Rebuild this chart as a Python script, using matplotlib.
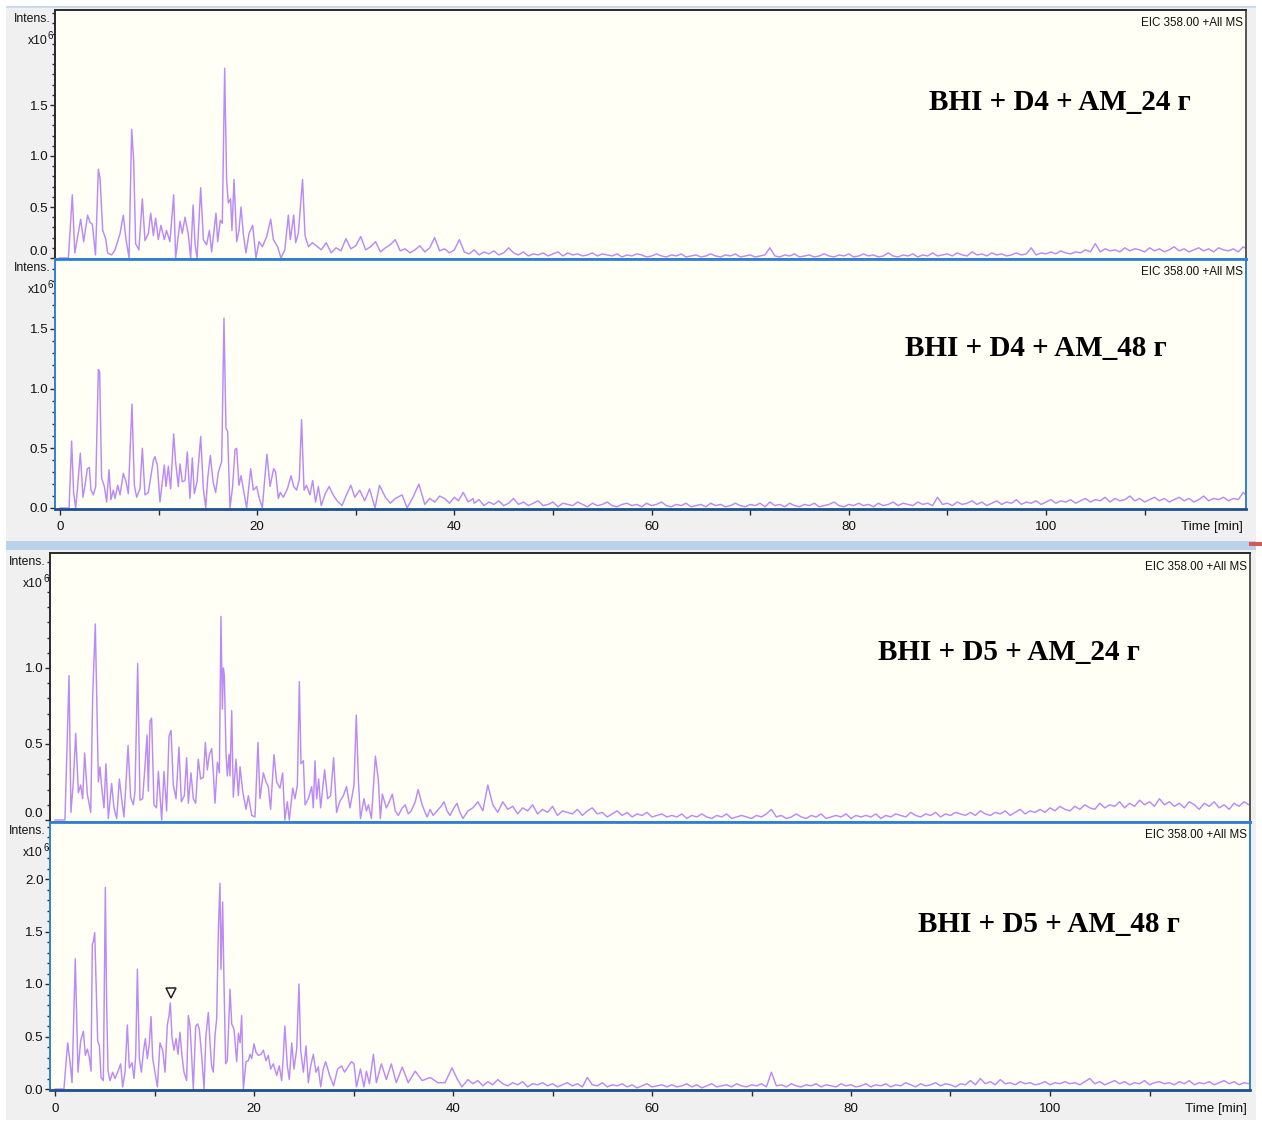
import numpy as np
import matplotlib
matplotlib.use("Agg")
import matplotlib.pyplot as plt
from matplotlib import font_manager as fm
from matplotlib.patches import Rectangle
from matplotlib.ticker import FixedLocator, MultipleLocator, NullFormatter

# ------------------------------------------------------------------ data
titles = ["BHI + D4 + AM_24 г", "BHI + D4 + AM_48 г",
          "BHI + D5 + AM_24 г", "BHI + D5 + AM_48 г"]
eic_label = "EIC 358.00 +All MS"
x_ticks = [0, 20, 40, 60, 80, 100]
x_minor = [10, 30, 50, 70, 90, 110]
y_ticks = [[0.0, 0.5, 1.0, 1.5], [0.0, 0.5, 1.0, 1.5],
           [0.0, 0.5, 1.0], [0.0, 0.5, 1.0, 1.5, 2.0]]

# panel 1 : BHI + D4 + AM_24
p1_head_t = [0, 0.85, 1.25, 1.5, 2.1, 2.4, 2.8, 3.04, 3.28, 3.6, 3.89, 4.06, 4.33, 4.63, 4.83,
             5.24, 5.58, 6.09, 6.42, 6.7, 7.0, 7.27, 7.47, 7.67, 8.0, 8.35, 8.62, 8.96, 9.2, 9.47,
             9.7, 9.97, 10.24, 10.58, 10.8, 11.15, 11.53, 11.73, 12.17, 12.4, 12.68, 13.0, 13.25,
             13.5, 13.7, 13.9, 14.27, 14.54, 14.87, 15.15, 15.38, 15.82, 15.99, 16.26, 16.46, 16.7,
             16.9, 17.07, 17.3, 17.44, 17.65, 17.92, 18.15, 18.36, 18.59, 18.86, 19.17, 19.54,
             19.88, 20.18, 20.52, 20.96, 21.37, 21.64, 22.07, 22.41, 22.8, 23.16, 23.36, 23.7,
             23.9, 24.17, 24.6, 24.85, 25.2, 25.6]
p1_head_v = [0, 0, 0.62, 0.05, 0.38, 0.16, 0.42, 0.35, 0.33, 0.03, 0.87, 0.78, 0.27, 0.19, 0.05,
             0.03, 0.08, 0.24, 0.42, 0.18, 0.0, 1.26, 0.96, 0.14, 0.08, 0.58, 0.17, 0.24, 0.44, 0.22,
             0.39, 0.18, 0.32, 0.18, 0.27, 0.16, 0.62, 0.0, 0.36, 0.24, 0.40, 0.24, 0.0,
             0.52, 0.13, 0.0, 0.69, 0.18, 0.13, 0.27, 0.06, 0.44, 0.16, 0.37, 0.34, 1.86,
             0.76, 0.54, 0.58, 0.27, 0.77, 0.16, 0.27, 0.50, 0.24, 0.05, 0.24, 0.32,
             0.0, 0.16, 0.11, 0.21, 0.38, 0.18, 0.11, 0.0, 0.08, 0.42, 0.18, 0.42,
             0.15, 0.24, 0.77, 0.22, 0.11, 0.15]
p1_tail_start = 26.0
p1_tail_v = [
    0.12, 0.08, 0.15, 0.05, 0.10, 0.07, 0.19, 0.09, 0.12, 0.21, 0.08, 0.11, 0.16, 0.06, 0.10, 0.13, 0.18, 0.07, 0.09, 0.05,
    0.08, 0.12, 0.06, 0.10, 0.20, 0.07, 0.09, 0.05, 0.08, 0.18, 0.06, 0.04, 0.08, 0.03, 0.06, 0.04, 0.07, 0.03, 0.05, 0.10,
    0.05, 0.03, 0.06, 0.02, 0.04, 0.03, 0.05, 0.02, 0.04, 0.06, 0.02, 0.05, 0.03, 0.04, 0.02, 0.03, 0.05, 0.02, 0.04, 0.03,
    0.02, 0.04, 0.01, 0.03, 0.02, 0.04, 0.03, 0.01, 0.02, 0.04, 0.02, 0.01, 0.03, 0.02, 0.04, 0.01, 0.02, 0.03, 0.01, 0.02,
    0.04, 0.02, 0.01, 0.03, 0.02, 0.04, 0.01, 0.02, 0.03, 0.01, 0.02, 0.03, 0.10, 0.02, 0.01, 0.03, 0.02, 0.04, 0.01, 0.02,
    0.03, 0.01, 0.02, 0.04, 0.02, 0.01, 0.03, 0.02, 0.04, 0.01, 0.02, 0.04, 0.02, 0.03, 0.01, 0.02, 0.05, 0.02, 0.01, 0.03,
    0.02, 0.04, 0.01, 0.03, 0.02, 0.05, 0.02, 0.03, 0.04, 0.02, 0.05, 0.03, 0.02, 0.06, 0.03, 0.04, 0.02, 0.05, 0.03, 0.04,
    0.02, 0.03, 0.05, 0.03, 0.04, 0.10, 0.03, 0.05, 0.04, 0.06, 0.04, 0.07, 0.05, 0.04, 0.06, 0.05, 0.08, 0.06, 0.14, 0.06,
    0.09, 0.07, 0.08, 0.06, 0.10, 0.07, 0.09, 0.08, 0.06, 0.10, 0.07, 0.09, 0.06, 0.08, 0.11, 0.07, 0.09, 0.06, 0.08, 0.10,
    0.07, 0.09, 0.06, 0.10, 0.08, 0.07, 0.09, 0.06, 0.11, 0.08]

# panel 2 : BHI + D4 + AM_48
p2_head_t = [0, 0.92, 1.18, 1.38, 1.59, 1.76, 2.06, 2.33, 2.54, 2.77, 2.98, 3.14, 3.38, 3.62, 3.89,
             4.02, 4.22, 4.5, 4.73, 4.97, 5.17, 5.41, 5.58, 5.85, 6.09, 6.42, 6.7, 6.93, 7.3, 7.54,
             7.78, 8.11, 8.35, 8.62, 8.96, 9.47, 9.63, 9.87, 10.14, 10.58, 10.75, 10.99, 11.22,
             11.53, 11.73, 12.0, 12.17, 12.4, 12.68, 12.91, 13.18, 13.42, 13.62, 13.9, 14.27,
             14.54, 14.78, 14.98, 15.25, 15.52, 15.79, 16.06, 16.4, 16.63, 16.83, 17.0, 17.24,
             17.51, 17.75, 17.92, 18.15, 18.36, 18.59, 18.93, 19.34, 19.61, 19.95, 20.18, 20.52,
             20.79, 20.99, 21.3, 21.67, 21.87, 22.14, 22.34, 22.65, 23.06, 23.43, 23.7, 24.0,
             24.27, 24.5, 24.75, 25.0, 25.35, 25.62, 25.92, 26.2, 26.5, 26.9, 27.3, 27.7, 28.1,
             28.6, 29.0, 29.5, 29.9, 30.4, 30.9, 31.4, 31.95, 32.4, 33.0, 33.5, 34.0, 34.7, 35.2,
             35.8, 36.4, 37.0, 37.5, 38.0, 38.5, 39.0, 39.5, 40.0, 40.4, 40.9, 41.4, 41.9]
p2_head_v = [0, 0, 0.56, 0.13, 0.0, 0.15, 0.46, 0.09, 0.19, 0.33, 0.34, 0.15, 0.11, 0.18, 1.16,
             1.14, 0.25, 0.18, 0.05, 0.32, 0.07, 0.15, 0.08, 0.19, 0.11, 0.29, 0.22, 0.12, 0.87, 0.19,
             0.09, 0.16, 0.50, 0.11, 0.13, 0.40, 0.43, 0.36, 0.05, 0.36, 0.18, 0.35, 0.16,
             0.62, 0.38, 0.18, 0.37, 0.22, 0.23, 0.47, 0.08, 0.42, 0.12, 0.22, 0.60,
             0.16, 0.0, 0.25, 0.44, 0.22, 0.13, 0.30, 0.39, 1.59, 0.67, 0.64, 0.0,
             0.18, 0.49, 0.50, 0.19, 0.27, 0.16, 0.0, 0.33, 0.15, 0.18, 0.09, 0.0,
             0.27, 0.45, 0.18, 0.33, 0.30, 0.08, 0.13, 0.09, 0.16, 0.27, 0.18, 0.15,
             0.24, 0.74, 0.15, 0.19, 0.11, 0.23, 0.05, 0.18, 0.02, 0.12, 0.18, 0.11, 0.06,
             0.02, 0.10, 0.19, 0.09, 0.15, 0.06, 0.16, 0.0, 0.19, 0.09, 0.04, 0.08, 0.11, 0.0,
             0.09, 0.20, 0.03, 0.08, 0.05, 0.10, 0.08, 0.04, 0.09, 0.06, 0.13, 0.05, 0.08]
p2_tail_start = 42.0
p2_tail_v = [
    0.04, 0.07, 0.02, 0.05, 0.03, 0.06, 0.02, 0.04, 0.08, 0.03, 0.05, 0.02, 0.04, 0.06, 0.02, 0.03, 0.05, 0.01, 0.04, 0.03,
    0.02, 0.05, 0.03, 0.01, 0.04, 0.02, 0.03, 0.05, 0.02, 0.01, 0.03, 0.04, 0.02, 0.03, 0.01, 0.04, 0.02, 0.03, 0.05, 0.02,
    0.01, 0.03, 0.02, 0.04, 0.01, 0.02, 0.03, 0.01, 0.04, 0.02, 0.03, 0.01, 0.02, 0.04, 0.02, 0.01, 0.03, 0.02, 0.04, 0.01,
    0.05, 0.02, 0.03, 0.01, 0.04, 0.02, 0.01, 0.03, 0.02, 0.04, 0.01, 0.02, 0.03, 0.05, 0.02, 0.01, 0.03, 0.02, 0.04, 0.02,
    0.03, 0.01, 0.04, 0.02, 0.03, 0.05, 0.02, 0.04, 0.03, 0.02, 0.05, 0.03, 0.04, 0.02, 0.09, 0.03, 0.04, 0.02, 0.05, 0.03,
    0.04, 0.06, 0.03, 0.05, 0.02, 0.04, 0.06, 0.03, 0.05, 0.04, 0.07, 0.03, 0.05, 0.04, 0.06, 0.03, 0.05, 0.07, 0.04, 0.06,
    0.05, 0.07, 0.04, 0.06, 0.08, 0.05, 0.07, 0.06, 0.09, 0.05, 0.08, 0.06, 0.07, 0.10, 0.06, 0.08, 0.05, 0.07, 0.09, 0.06,
    0.08, 0.05, 0.07, 0.09, 0.06, 0.08, 0.05, 0.07, 0.10, 0.06, 0.08, 0.07, 0.09, 0.06, 0.08, 0.07, 0.13, 0.09, 0.07, 0.08]

# panel 3 : BHI + D5 + AM_24
p3_head_t = [0, 1.0, 1.41, 1.6, 1.84, 2.08, 2.35, 2.58, 2.78, 2.98, 3.25, 3.59, 3.79, 4.05, 4.19,
             4.36, 4.52, 4.69, 4.92, 5.12, 5.36, 5.69, 5.93, 6.2, 6.47, 6.7, 6.93, 7.14, 7.34, 7.6,
             7.87, 8.04, 8.31, 8.54, 8.81, 9.05, 9.25, 9.38, 9.55, 9.71, 9.95, 10.2, 10.39, 10.72,
             10.95, 11.22, 11.46, 11.66, 11.89, 12.16, 12.46, 12.7, 13.0, 13.23, 13.4, 13.67, 13.9,
             14.14, 14.4, 14.64, 14.91, 15.11, 15.31, 15.51, 15.75, 15.92, 16.08, 16.32, 16.52,
             16.68, 16.82, 16.92, 17.02, 17.19, 17.32, 17.49, 17.59, 17.76, 17.92, 18.19, 18.43,
             18.6, 18.86, 19.2, 19.43, 19.77, 20.1, 20.4, 20.6, 20.94, 21.21, 21.44, 21.67, 22.01,
             22.28, 22.61, 22.88, 23.1, 23.35, 23.55, 23.89, 24.12, 24.36, 24.56, 24.72, 24.96,
             25.13, 25.46, 25.8, 25.96, 26.13, 26.3, 26.5, 26.7, 27.1, 27.4, 27.7, 28.0, 28.3,
             28.6, 28.98, 29.3, 29.65, 30.05, 30.28, 30.5, 30.7, 31.05, 31.3, 31.5, 31.8, 32.2,
             32.5, 32.7, 32.9, 33.3, 33.6, 33.9, 34.2, 34.5, 34.9, 35.2, 35.5, 35.8, 36.2, 36.5,
             36.9, 37.2, 37.4, 37.7, 38.0, 38.4, 38.8, 39.1, 39.4, 39.7, 40.1, 40.4, 40.7, 41.0, 41.5]
p3_head_v = [0, 0, 0.95, 0.05, 0.25, 0.57, 0.18, 0.23, 0.14, 0.44, 0.17, 0.05, 0.82, 1.29, 0.82,
             0.25, 0.35, 0.22, 0.08, 0.37, 0.01, 0.24, 0.08, 0.01, 0.27, 0.14, 0.02, 0.25, 0.49, 0.15,
             0.10, 0.19, 1.03, 0.13, 0.14, 0.36, 0.56, 0.19, 0.65, 0.67, 0.10, 0.08, 0.32, 0.0,
             0.32, 0.06, 0.55, 0.59, 0.23, 0.14, 0.48, 0.12, 0.16, 0.41, 0.11, 0.31, 0.14,
             0.11, 0.40, 0.27, 0.28, 0.51, 0.33, 0.43, 0.47, 0.30, 0.11, 0.38, 0.31,
             1.34, 0.73, 1.0, 0.95, 0.43, 0.29, 0.43, 0.29, 0.72, 0.15, 0.40, 0.16,
             0.35, 0.19, 0.07, 0.16, 0.03, 0.02, 0.51, 0.14, 0.31, 0.25, 0.22, 0.07, 0.43,
             0.25, 0.21, 0.31, 0.0, 0.12, 0.0, 0.21, 0.14, 0.23, 0.91, 0.37, 0.39,
             0.10, 0.14, 0.22, 0.08, 0.39, 0.14, 0.27, 0.08, 0.33, 0.14, 0.16, 0.41, 0.05,
             0.12, 0.16, 0.22, 0.08, 0.23, 0.69, 0.25, 0.01, 0.14, 0.06, 0.10, 0.01, 0.42,
             0.26, 0.01, 0.17, 0.08, 0.12, 0.17, 0.06, 0.03, 0.08, 0.10, 0.04, 0.06, 0.12, 0.20,
             0.10, 0.05, 0.02, 0.07, 0.03, 0.06, 0.09, 0.12, 0.06, 0.03, 0.08, 0.11, 0.05, 0.01, 0.06]
p3_tail_start = 42.0
p3_tail_v = [
    0.08, 0.12, 0.06, 0.23, 0.10, 0.05, 0.12, 0.07, 0.09, 0.04, 0.08, 0.06, 0.10, 0.04, 0.07, 0.05, 0.09, 0.03, 0.06, 0.05,
    0.04, 0.07, 0.03, 0.06, 0.08, 0.04, 0.05, 0.02, 0.04, 0.06, 0.03, 0.05, 0.02, 0.04, 0.03, 0.05, 0.02, 0.03, 0.04, 0.02,
    0.03, 0.02, 0.04, 0.01, 0.03, 0.02, 0.04, 0.02, 0.01, 0.03, 0.02, 0.04, 0.01, 0.02, 0.03, 0.02, 0.01, 0.03, 0.02, 0.04,
    0.07, 0.02, 0.03, 0.01, 0.02, 0.04, 0.02, 0.01, 0.03, 0.02, 0.04, 0.01, 0.02, 0.03, 0.02, 0.04, 0.01, 0.03, 0.02, 0.03,
    0.02, 0.04, 0.01, 0.03, 0.02, 0.04, 0.03, 0.02, 0.05, 0.03, 0.02, 0.04, 0.03, 0.05, 0.02, 0.04, 0.03, 0.05, 0.04, 0.03,
    0.05, 0.03, 0.06, 0.04, 0.03, 0.05, 0.04, 0.06, 0.03, 0.05, 0.07, 0.04, 0.06, 0.05, 0.07, 0.05, 0.08, 0.06, 0.09, 0.07,
    0.06, 0.09, 0.07, 0.10, 0.08, 0.07, 0.11, 0.08, 0.10, 0.09, 0.12, 0.08, 0.11, 0.09, 0.13, 0.10, 0.12, 0.09, 0.14, 0.10,
    0.12, 0.09, 0.11, 0.08, 0.12, 0.10, 0.07, 0.11, 0.09, 0.12, 0.08, 0.10, 0.07, 0.11, 0.09, 0.12, 0.10, 0.08, 0.11, 0.09]

# panel 4 : BHI + D5 + AM_48
p4_head_t = [0, 0.9, 1.27, 1.51, 1.71, 2.04, 2.31, 2.58, 2.85, 3.05, 3.25, 3.45, 3.62, 3.75, 3.85,
             3.99, 4.12, 4.29, 4.46, 4.63, 4.86, 5.06, 5.19, 5.33, 5.53, 5.79, 6.03, 6.3, 6.6, 6.8,
             7.04, 7.27, 7.47, 7.74, 7.94, 8.11, 8.28, 8.48, 8.68, 8.88, 9.08, 9.28, 9.48, 9.65,
             9.82, 10.05, 10.29, 10.55, 10.82, 11.06, 11.29, 11.46, 11.59, 11.76, 11.96, 12.16,
             12.36, 12.56, 12.76, 12.96, 13.23, 13.4, 13.57, 13.73, 13.9, 14.14, 14.34, 14.5,
             14.74, 14.98, 15.17, 15.41, 15.58, 15.74, 15.91, 16.08, 16.25, 16.42, 16.58, 16.68,
             16.85, 16.99, 17.15, 17.32, 17.59, 17.76, 17.99, 18.26, 18.43, 18.6, 18.76, 18.93,
             19.2, 19.43, 19.6, 19.77, 20.0, 20.2, 20.44, 20.7, 20.94, 21.2, 21.44, 21.67, 21.94,
             22.28, 22.54, 22.78, 22.95, 23.1, 23.35, 23.55, 23.79, 24.02, 24.29, 24.52, 24.69,
             24.96, 25.23, 25.46, 25.7, 25.96, 26.23, 26.46, 26.7, 26.96, 27.2, 27.6, 28.0, 28.4,
             28.8, 29.1, 29.5, 29.8, 30.05, 30.3, 30.7, 31.05, 31.3, 31.6, 32.0, 32.3, 32.8, 33.3,
             33.8, 34.3, 34.9, 35.5, 36.2, 36.9, 37.7, 38.5, 39.2, 39.9, 40.4, 40.9, 41.5]
p4_head_v = [0, 0, 0.44, 0.26, 0.06, 1.24, 0.16, 0.46, 0.55, 0.32, 0.38, 0.30, 0.17, 1.38, 1.40,
             1.49, 1.05, 0.46, 0.41, 0.11, 0.08, 1.92, 0.82, 0.17, 0.08, 0.16, 0.10, 0.16, 0.24, 0.02,
             0.16, 0.61, 0.20, 0.25, 0.10, 0.32, 1.14, 0.29, 0.16, 0.35, 0.48, 0.29, 0.43, 0.69,
             0.29, 0.16, 0.02, 0.44, 0.37, 0.16, 0.61, 0.70, 0.82, 0.49, 0.37, 0.48,
             0.33, 0.54, 0.32, 0.16, 0.08, 0.70, 0.60, 0.32, 0.0, 0.60, 0.62, 0.57,
             0.32, 0.0, 0.51, 0.73, 0.44, 0.22, 0.16, 0.51, 0.67, 1.52, 1.96, 1.14,
             1.78, 0.98, 0.24, 0.27, 0.95, 0.62, 0.57, 0.26, 0.53, 0.44, 0.70, 0.0,
             0.26, 0.27, 0.33, 0.29, 0.43, 0.35, 0.32, 0.33, 0.37, 0.27, 0.32, 0.19, 0.24,
             0.13, 0.22, 0.08, 0.32, 0.60, 0.22, 0.09, 0.44, 0.19, 0.38, 1.0, 0.37,
             0.16, 0.41, 0.06, 0.22, 0.33, 0.16, 0.21, 0.02, 0.19, 0.26, 0.13, 0.03, 0.19,
             0.22, 0.16, 0.22, 0.26, 0.24, 0.02, 0.19, 0.02, 0.17, 0.05, 0.33, 0.06, 0.24, 0.09,
             0.24, 0.06, 0.21, 0.06, 0.17, 0.08, 0.11, 0.06, 0.06, 0.20, 0.10, 0.02, 0.09]
p4_tail_start = 42.0
p4_tail_v = [
    0.05, 0.08, 0.03, 0.07, 0.04, 0.09, 0.05, 0.03, 0.06, 0.04, 0.07, 0.02, 0.05, 0.04, 0.06, 0.03, 0.05, 0.02, 0.04, 0.06,
    0.03, 0.05, 0.02, 0.11, 0.04, 0.03, 0.06, 0.02, 0.04, 0.03, 0.05, 0.02, 0.04, 0.01, 0.03, 0.05, 0.02, 0.03, 0.04, 0.02,
    0.04, 0.02, 0.03, 0.05, 0.02, 0.04, 0.01, 0.03, 0.05, 0.02, 0.03, 0.04, 0.02, 0.05, 0.03, 0.02, 0.04, 0.03, 0.05, 0.02,
    0.16, 0.03, 0.04, 0.02, 0.05, 0.03, 0.02, 0.04, 0.03, 0.05, 0.02, 0.04, 0.03, 0.02, 0.05, 0.03, 0.04, 0.02, 0.03, 0.05,
    0.02, 0.04, 0.03, 0.05, 0.02, 0.04, 0.03, 0.06, 0.04, 0.02, 0.05, 0.03, 0.04, 0.06, 0.03, 0.05, 0.04, 0.02, 0.05, 0.04,
    0.08, 0.04, 0.10, 0.05, 0.07, 0.04, 0.09, 0.05, 0.06, 0.04, 0.07, 0.05, 0.06, 0.04, 0.05, 0.07, 0.04, 0.06, 0.05, 0.07,
    0.05, 0.06, 0.04, 0.07, 0.10, 0.05, 0.07, 0.04, 0.06, 0.08, 0.05, 0.07, 0.04, 0.06, 0.05, 0.08, 0.04, 0.06, 0.07, 0.05,
    0.06, 0.04, 0.07, 0.05, 0.08, 0.04, 0.06, 0.05, 0.07, 0.04, 0.06, 0.08, 0.05, 0.07, 0.04, 0.06, 0.05, 0.07, 0.06, 0.05]

# peak marker (panel 4)
marker_t = [11.62]
marker_v = [0.91]

# ------------------------------------------------------------------ helpers
TAIL_STEP = 0.5


def series(head_t, head_v, tail_start, tail_v):
    t = list(head_t) + [tail_start + TAIL_STEP * i for i in range(len(tail_v))]
    v = list(head_v) + list(tail_v)
    return np.array(t), np.array(v)


data = [series(p1_head_t, p1_head_v, p1_tail_start, p1_tail_v),
        series(p2_head_t, p2_head_v, p2_tail_start, p2_tail_v),
        series(p3_head_t, p3_head_v, p3_tail_start, p3_tail_v),
        series(p4_head_t, p4_head_v, p4_tail_start, p4_tail_v)]

W, H = 1262, 1122
fig = plt.figure(figsize=(W / 100, H / 100), dpi=100, facecolor="white")

avail = {f.name for f in fm.fontManager.ttflist}
if "Liberation Sans Narrow" in avail:
    SANS, TICK_FS, EIC_FS, INT_FS = "Liberation Sans Narrow", 10.7, 9.8, 10.7
else:
    SANS, TICK_FS, EIC_FS, INT_FS = "Liberation Sans", 9.6, 8.4, 8.8


def fx(x):
    return x / W


def fy(y):
    return 1 - y / H


def rect_px(x0, y0, x1, y1, color, z):
    r = Rectangle((fx(x0), fy(y1)), (x1 - x0) / W, (y1 - y0) / H,
                  transform=fig.transFigure, facecolor=color, edgecolor="none", zorder=z)
    fig.add_artist(r)


# background
rect_px(6, 8, 1256, 1120, "#f0f0f0", -10)
rect_px(6, 6, 1256, 8, "#c9dcef", -10)
rect_px(6, 541, 1256, 550, "#b9d1ea", -9)
rect_px(1249, 542, 1262, 546, "#d45a5a", -9)

# layout: (left, right, top, bottom) px ; x0 px of t=0, px per min ; y px of 0, px per unit
panels = [
    dict(box=(55, 1246, 10, 259), x0=60, ppm=9.86, y0=258, ppu=102.0, frame="dark", xaxis=False,
         title_xy=(929, 103), eic_xy=(1243, 23), time_xy=None),
    dict(box=(55, 1246, 259, 509), x0=60, ppm=9.86, y0=508, ppu=119.4, frame="blue", xaxis=True,
         title_xy=(905, 348), eic_xy=(1243, 272), time_xy=(1243, 527)),
    dict(box=(50, 1250, 553, 822), x0=55, ppm=9.95, y0=820, ppu=152.0, frame="dark", xaxis=False,
         title_xy=(878, 652), eic_xy=(1247, 567), time_xy=None),
    dict(box=(50, 1250, 822, 1090), x0=55, ppm=9.95, y0=1089, ppu=105.0, frame="blue", xaxis=True,
         title_xy=(918, 924), eic_xy=(1247, 835), time_xy=(1247, 1109)),
]

LINE_COLOR = "#bb8af6"
BLUE = "#3a8fdc"
DARK = "#2a2a2a"

for i, (p, (t, v)) in enumerate(zip(panels, data)):
    l, r, tp, b = p["box"]
    ax = fig.add_axes([fx(l), fy(b), (r - l) / W, (b - tp) / H])
    ax.set_facecolor("#fffff6")
    ax.plot(t, v, color=LINE_COLOR, lw=1.05, solid_joinstyle="round", zorder=2)
    ax.set_xlim((l - p["x0"]) / p["ppm"], (r - p["x0"]) / p["ppm"])
    ax.set_ylim((p["y0"] - b) / p["ppu"], (p["y0"] - tp) / p["ppu"])

    # spines
    if p["frame"] == "dark":
        for s in ("top", "left", "right"):
            ax.spines[s].set_color(DARK)
            ax.spines[s].set_linewidth(1.4)
        ax.spines["right"].set_color("#555555")
        ax.spines["bottom"].set_color(BLUE)
        ax.spines["bottom"].set_linewidth(2.0)
    else:
        for s in ("top", "left", "right"):
            ax.spines[s].set_color("#2f80d0")
            ax.spines[s].set_linewidth(1.4)
        ax.spines["top"].set_linewidth(2.0)
        ax.spines["bottom"].set_color("#1d4f8f")
        ax.spines["bottom"].set_linewidth(2.0)
    for s in ax.spines.values():
        s.set_zorder(5)

    # y axis
    ax.yaxis.set_major_locator(FixedLocator(y_ticks[i]))
    ax.yaxis.set_minor_locator(MultipleLocator(0.1))
    ax.set_yticklabels([f"{val:.1f}" for val in y_ticks[i]], family=SANS, fontsize=TICK_FS,
                       color="#111111")
    ax.tick_params(axis="y", which="major", direction="out", length=3.5, width=1.0,
                   color=DARK, pad=1.2)
    ax.tick_params(axis="y", which="minor", direction="out", length=2.0, width=1.0, color=DARK)
    if not p["xaxis"]:
        # the lowest label sits on the panel boundary: keep it above the next panel's labels
        ax.yaxis.get_major_ticks()[0].label1.set_verticalalignment("bottom")

    # x axis
    if p["xaxis"]:
        ax.xaxis.set_major_locator(FixedLocator(x_ticks))
        ax.xaxis.set_minor_locator(FixedLocator(x_minor))
        ax.xaxis.set_minor_formatter(NullFormatter())
        ax.set_xticklabels([str(x) for x in x_ticks], family=SANS, fontsize=TICK_FS,
                           color="#111111")
        ax.tick_params(axis="x", which="both", direction="out", length=4, width=1.0,
                       color=DARK, pad=5)
    else:
        ax.tick_params(axis="x", which="both", bottom=False, labelbottom=False)

    if i == 3:
        ax.plot(marker_t, marker_v, linestyle="none", marker="v", markersize=7.5,
                markerfacecolor="white", markeredgecolor="#222222", markeredgewidth=1.1,
                zorder=4)

    # labels
    fig.text(fx(l - 4), fy(tp + 9), "Intens.", ha="right", va="center",
             family=SANS, fontsize=INT_FS, color="#111111", zorder=3)
    fig.text(fx(l - 7), fy(tp + 31), "x10", ha="right", va="center",
             family=SANS, fontsize=INT_FS, color="#111111", zorder=3)
    fig.text(fx(l - 7), fy(tp + 26), "6", ha="left", va="center",
             family=SANS, fontsize=INT_FS * 0.8, color="#111111", zorder=3)
    fig.text(fx(p["eic_xy"][0]), fy(p["eic_xy"][1]), eic_label, ha="right", va="center",
             family=SANS, fontsize=EIC_FS, color="#111111", zorder=3)
    fig.text(fx(p["title_xy"][0]), fy(p["title_xy"][1]), titles[i], ha="left", va="center",
             family="Liberation Serif", fontweight="bold", fontsize=21, color="black", zorder=3)
    if p["time_xy"] is not None:
        fig.text(fx(p["time_xy"][0]), fy(p["time_xy"][1]), "Time [min]", ha="right",
                 va="center", family=SANS, fontsize=TICK_FS, color="#111111", zorder=3)

fig.savefig("out.png", dpi=100, facecolor=fig.get_facecolor())
